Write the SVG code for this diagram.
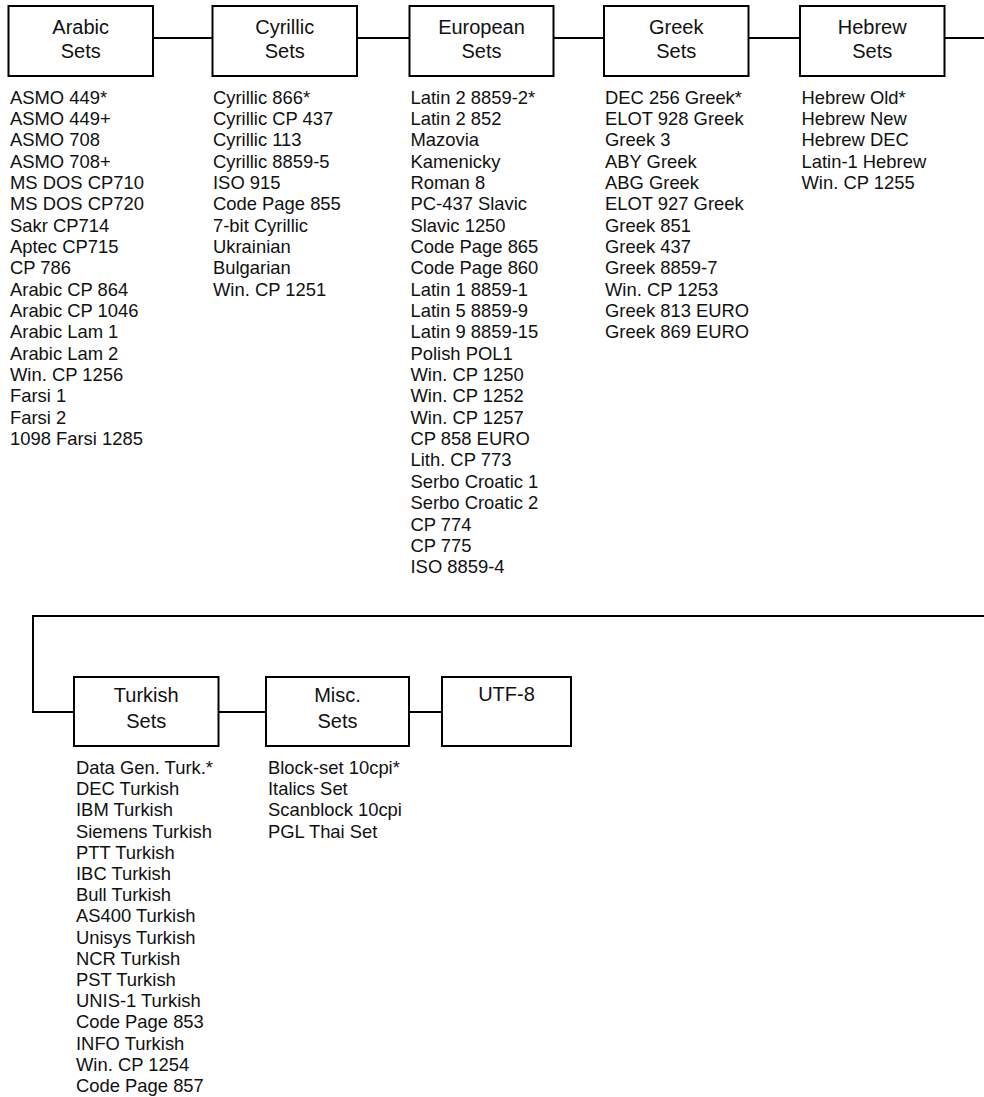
<svg xmlns="http://www.w3.org/2000/svg" width="984" height="1097" viewBox="0 0 984 1097">
<style>
.box{fill:#fff;stroke:#000;stroke-width:2}
.ln{fill:none;stroke:#000;stroke-width:2}
.t{font-family:"Liberation Sans",Arial,sans-serif;font-size:20px;fill:#111;text-anchor:middle}
.l{font-family:"Liberation Sans",Arial,sans-serif;font-size:18.4px;fill:#111}
</style>
<rect width="984" height="1097" fill="#fff"/>
<g id="connectors">
<path class="ln" d="M153 38H212M357 38H409M553.5 38H604M748.5 38H800M944.5 38H984"/>
<path class="ln" d="M984 616H33V712H32M33 712H74M218.5 712H266M409 712H442"/>
</g>
<g id="arabic">
<rect class="box" x="8.5" y="6" width="144.5" height="70"/>
<text class="t"><tspan x="80.7" y="33.5">Arabic</tspan><tspan x="80.7" y="57.5">Sets</tspan></text>
<text class="l" x="10" y="103.5"><tspan x="10">ASMO 449*</tspan><tspan x="10" dy="21.35">ASMO 449+</tspan><tspan x="10" dy="21.35">ASMO 708</tspan><tspan x="10" dy="21.35">ASMO 708+</tspan><tspan x="10" dy="21.35">MS DOS CP710</tspan><tspan x="10" dy="21.35">MS DOS CP720</tspan><tspan x="10" dy="21.35">Sakr CP714</tspan><tspan x="10" dy="21.35">Aptec CP715</tspan><tspan x="10" dy="21.35">CP 786</tspan><tspan x="10" dy="21.35">Arabic CP 864</tspan><tspan x="10" dy="21.35">Arabic CP 1046</tspan><tspan x="10" dy="21.35">Arabic Lam 1</tspan><tspan x="10" dy="21.35">Arabic Lam 2</tspan><tspan x="10" dy="21.35">Win. CP 1256</tspan><tspan x="10" dy="21.35">Farsi 1</tspan><tspan x="10" dy="21.35">Farsi 2</tspan><tspan x="10" dy="21.35">1098 Farsi 1285</tspan></text>
</g>
<g id="cyrillic">
<rect class="box" x="212.5" y="6" width="144.5" height="70"/>
<text class="t"><tspan x="284.7" y="33.5">Cyrillic</tspan><tspan x="284.7" y="57.5">Sets</tspan></text>
<text class="l" x="213" y="103.5"><tspan x="213">Cyrillic 866*</tspan><tspan x="213" dy="21.35">Cyrillic CP 437</tspan><tspan x="213" dy="21.35">Cyrillic 113</tspan><tspan x="213" dy="21.35">Cyrillic 8859-5</tspan><tspan x="213" dy="21.35">ISO 915</tspan><tspan x="213" dy="21.35">Code Page 855</tspan><tspan x="213" dy="21.35">7-bit Cyrillic</tspan><tspan x="213" dy="21.35">Ukrainian</tspan><tspan x="213" dy="21.35">Bulgarian</tspan><tspan x="213" dy="21.35">Win. CP 1251</tspan></text>
</g>
<g id="european">
<rect class="box" x="409.5" y="6" width="144" height="70"/>
<text class="t"><tspan x="481.5" y="33.5">European</tspan><tspan x="481.5" y="57.5">Sets</tspan></text>
<text class="l" x="410.5" y="103.5"><tspan x="410.5">Latin 2 8859-2*</tspan><tspan x="410.5" dy="21.35">Latin 2 852</tspan><tspan x="410.5" dy="21.35">Mazovia</tspan><tspan x="410.5" dy="21.35">Kamenicky</tspan><tspan x="410.5" dy="21.35">Roman 8</tspan><tspan x="410.5" dy="21.35">PC-437 Slavic</tspan><tspan x="410.5" dy="21.35">Slavic 1250</tspan><tspan x="410.5" dy="21.35">Code Page 865</tspan><tspan x="410.5" dy="21.35">Code Page 860</tspan><tspan x="410.5" dy="21.35">Latin 1 8859-1</tspan><tspan x="410.5" dy="21.35">Latin 5 8859-9</tspan><tspan x="410.5" dy="21.35">Latin 9 8859-15</tspan><tspan x="410.5" dy="21.35">Polish POL1</tspan><tspan x="410.5" dy="21.35">Win. CP 1250</tspan><tspan x="410.5" dy="21.35">Win. CP 1252</tspan><tspan x="410.5" dy="21.35">Win. CP 1257</tspan><tspan x="410.5" dy="21.35">CP 858 EURO</tspan><tspan x="410.5" dy="21.35">Lith. CP 773</tspan><tspan x="410.5" dy="21.35">Serbo Croatic 1</tspan><tspan x="410.5" dy="21.35">Serbo Croatic 2</tspan><tspan x="410.5" dy="21.35">CP 774</tspan><tspan x="410.5" dy="21.35">CP 775</tspan><tspan x="410.5" dy="21.35">ISO 8859-4</tspan></text>
</g>
<g id="greek">
<rect class="box" x="604" y="6" width="144.5" height="70"/>
<text class="t"><tspan x="676.2" y="33.5">Greek</tspan><tspan x="676.2" y="57.5">Sets</tspan></text>
<text class="l" x="605" y="103.5"><tspan x="605">DEC 256 Greek*</tspan><tspan x="605" dy="21.35">ELOT 928 Greek</tspan><tspan x="605" dy="21.35">Greek 3</tspan><tspan x="605" dy="21.35">ABY Greek</tspan><tspan x="605" dy="21.35">ABG Greek</tspan><tspan x="605" dy="21.35">ELOT 927 Greek</tspan><tspan x="605" dy="21.35">Greek 851</tspan><tspan x="605" dy="21.35">Greek 437</tspan><tspan x="605" dy="21.35">Greek 8859-7</tspan><tspan x="605" dy="21.35">Win. CP 1253</tspan><tspan x="605" dy="21.35">Greek 813 EURO</tspan><tspan x="605" dy="21.35">Greek 869 EURO</tspan></text>
</g>
<g id="hebrew">
<rect class="box" x="800" y="6" width="144.5" height="70"/>
<text class="t"><tspan x="872.2" y="33.5">Hebrew</tspan><tspan x="872.2" y="57.5">Sets</tspan></text>
<text class="l" x="801.5" y="103.5"><tspan x="801.5">Hebrew Old*</tspan><tspan x="801.5" dy="21.35">Hebrew New</tspan><tspan x="801.5" dy="21.35">Hebrew DEC</tspan><tspan x="801.5" dy="21.35">Latin-1 Hebrew</tspan><tspan x="801.5" dy="21.35">Win. CP 1255</tspan></text>
</g>
<g id="turkish">
<rect class="box" x="74" y="677" width="144.5" height="69"/>
<text class="t"><tspan x="146.2" y="701.5">Turkish</tspan><tspan x="146.2" y="728">Sets</tspan></text>
<text class="l" x="76" y="774"><tspan x="76">Data Gen. Turk.*</tspan><tspan x="76" dy="21.2">DEC Turkish</tspan><tspan x="76" dy="21.2">IBM Turkish</tspan><tspan x="76" dy="21.2">Siemens Turkish</tspan><tspan x="76" dy="21.2">PTT Turkish</tspan><tspan x="76" dy="21.2">IBC Turkish</tspan><tspan x="76" dy="21.2">Bull Turkish</tspan><tspan x="76" dy="21.2">AS400 Turkish</tspan><tspan x="76" dy="21.2">Unisys Turkish</tspan><tspan x="76" dy="21.2">NCR Turkish</tspan><tspan x="76" dy="21.2">PST Turkish</tspan><tspan x="76" dy="21.2">UNIS-1 Turkish</tspan><tspan x="76" dy="21.2">Code Page 853</tspan><tspan x="76" dy="21.2">INFO Turkish</tspan><tspan x="76" dy="21.2">Win. CP 1254</tspan><tspan x="76" dy="21.2">Code Page 857</tspan></text>
</g>
<g id="misc">
<rect class="box" x="266" y="677" width="143" height="69"/>
<text class="t"><tspan x="337.5" y="701.5">Misc.</tspan><tspan x="337.5" y="728">Sets</tspan></text>
<text class="l" x="268" y="774"><tspan x="268">Block-set 10cpi*</tspan><tspan x="268" dy="21.2">Italics Set</tspan><tspan x="268" dy="21.2">Scanblock 10cpi</tspan><tspan x="268" dy="21.2">PGL Thai Set</tspan></text>
</g>
<g id="utf8">
<rect class="box" x="442" y="677" width="129" height="69"/>
<text class="t" x="506.5" y="701">UTF-8</text>
</g>
</svg>
